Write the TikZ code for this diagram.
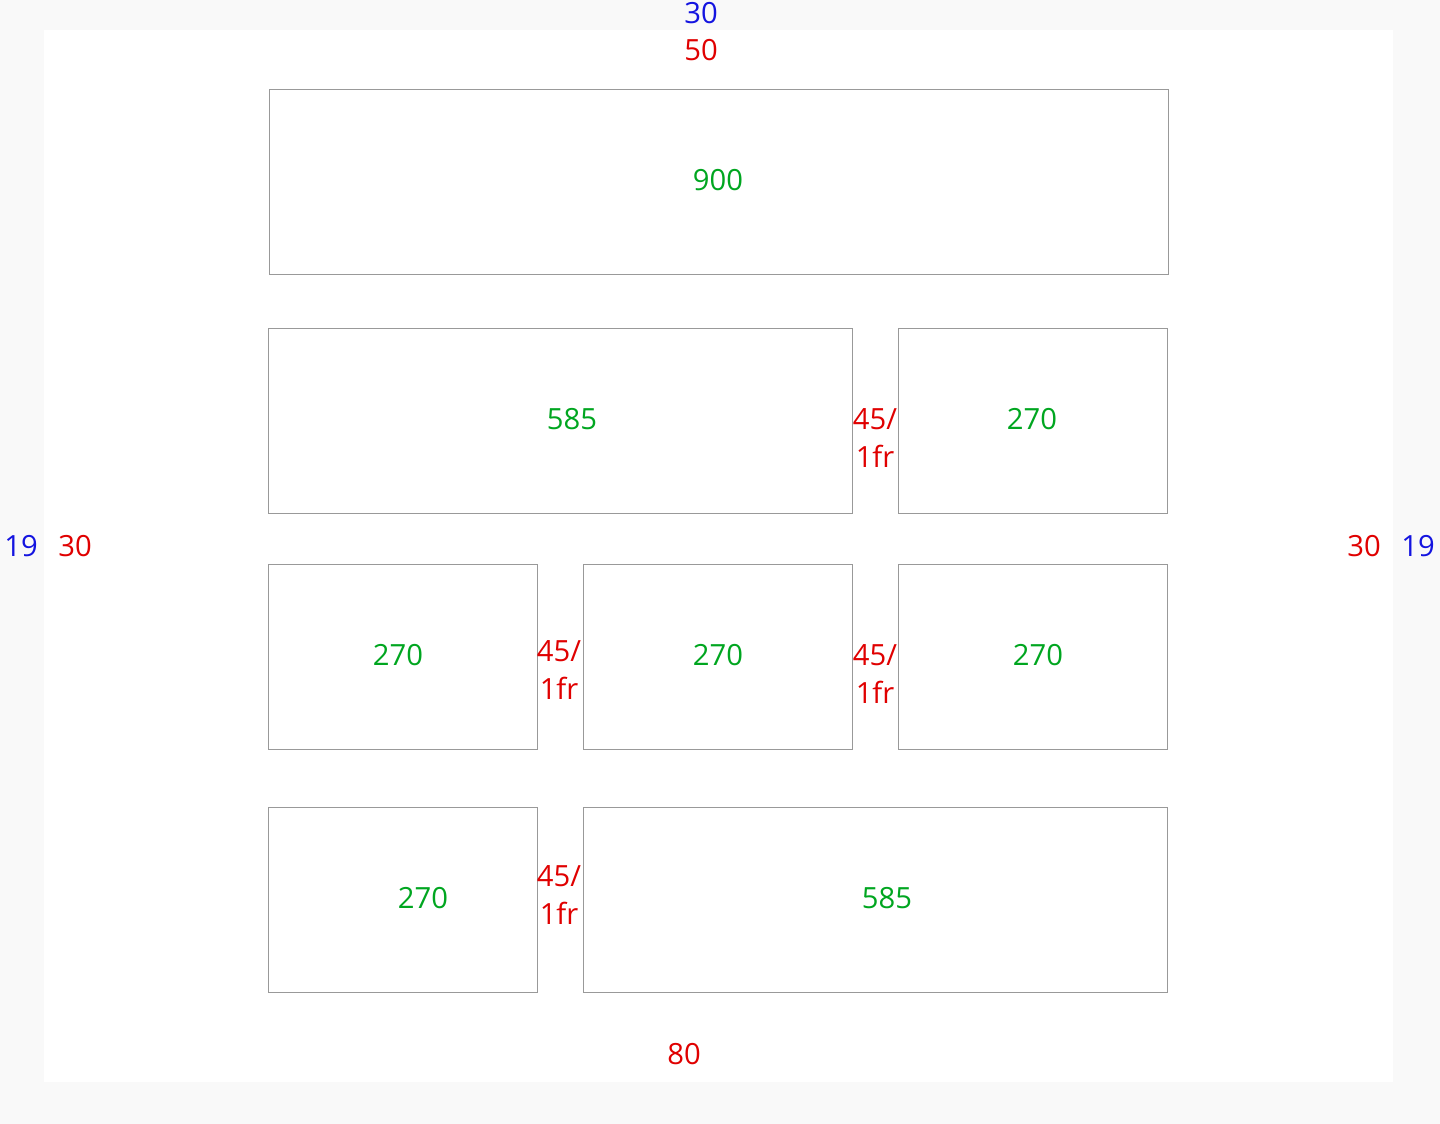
\documentclass[tikz,border=0pt]{standalone}
\usepackage{fontspec}
\setmainfont{Open Sans}
\definecolor{outerbg}{HTML}{F9F9F9}
\definecolor{boxline}{HTML}{999999}
\definecolor{numgreen}{HTML}{00A620}
\definecolor{numred}{HTML}{E00000}
\definecolor{numblue}{HTML}{1414E0}
\tikzset{
  cell/.style={draw=boxline, line width=0.5pt, fill=white},
  sizelbl/.style={text=numgreen, font=\fontsize{14.6}{17}\selectfont, inner sep=0pt},
  gaplbl/.style={text=numred, font=\fontsize{14.6}{19}\selectfont, inner sep=0pt, align=center},
  redlbl/.style={text=numred, font=\fontsize{14.6}{17}\selectfont, inner sep=0pt},
  bluelbl/.style={text=numblue, font=\fontsize{14.6}{17}\selectfont, inner sep=0pt},
}
\begin{document}
\begin{tikzpicture}[x=0.5pt,y=-0.5pt]
\fill[outerbg] (0,0) rectangle (1440,1124);
\useasboundingbox (0,0) rectangle (1440,1124);
\fill[white] (44,30) rectangle (1393,1082);
% boxes
\draw[cell] (269,89) rectangle (1168,274);
\draw[cell] (268,328) rectangle (852,513);
\draw[cell] (898,328) rectangle (1167,513);
\draw[cell] (268,564) rectangle (537,749);
\draw[cell] (583,564) rectangle (852,749);
\draw[cell] (898,564) rectangle (1167,749);
\draw[cell] (268,807) rectangle (537,992);
\draw[cell] (583,807) rectangle (1167,992);
% size labels
\node[sizelbl] (s1) at (718,180) {900};
\node[sizelbl] (s2) at (572,419) {585};
\node[sizelbl] (s3) at (1032,419) {270};
\node[sizelbl] (s4) at (398,655) {270};
\node[sizelbl] (s5) at (718,655) {270};
\node[sizelbl] (s6) at (1038,655) {270};
\node[sizelbl] (s7) at (423,898) {270};
\node[sizelbl] (s8) at (887,898) {585};
% gap labels
\node[gaplbl] (g1) at (875,438) {45/\\1fr};
\node[gaplbl] (g2) at (559,670) {45/\\1fr};
\node[gaplbl] (g3) at (875,674) {45/\\1fr};
\node[gaplbl] (g4) at (559,895) {45/\\1fr};
% margins / paddings
\node[bluelbl] (mt) at (701,13) {30};
\node[redlbl] (pt) at (701,50) {50};
\node[bluelbl] (ml) at (21,546) {19};
\node[redlbl] (pl) at (75,546) {30};
\node[redlbl] (pr) at (1364,546) {30};
\node[bluelbl] (mr) at (1418,546) {19};
\node[redlbl] (pb) at (684,1054) {80};
\end{tikzpicture}
\end{document}
